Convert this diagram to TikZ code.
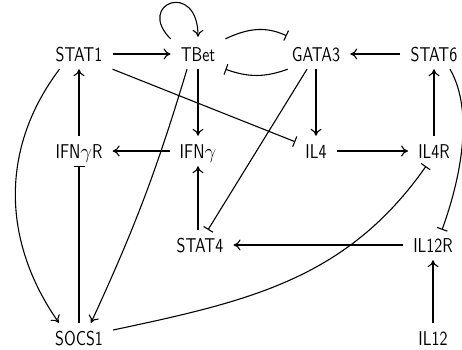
\documentclass[tikz,border=0pt]{standalone}
\usepackage{fontspec}
\newfontfamily\nodefont[FakeStretch=0.8]{lmsans10-regular.otf}
\usetikzlibrary{arrows.meta}
\begin{document}
\begin{tikzpicture}[x=1pt,y=1pt,
  gene/.style={font=\nodefont\fontsize{20}{24}\selectfont, text height=14pt, text depth=0pt, inner xsep=10pt, inner ysep=8pt},
  act/.style={line width=1.1pt, -{To[length=7pt,width=11pt]}},
  inh/.style={line width=1.1pt, -{Bar[width=11pt,line width=1.1pt]}},
]
\useasboundingbox (0,0) rectangle (462,-349);
\node[gene] (STAT1) at (79,-54) {STAT1};
\node[gene] (TBet)  at (198,-54) {TBet};
\node[gene] (GATA3) at (316,-54) {GATA3};
\node[gene] (STAT6) at (434,-54) {STAT6};
\node[gene] (IFNgR) at (79,-151) {IFN$\gamma$R};
\node[gene] (IFNg)  at (198,-151) {IFN$\gamma$};
\node[gene] (IL4)   at (316,-151) {IL4};
\node[gene] (IL4R)  at (434,-151) {IL4R};
\node[gene] (STAT4) at (200,-245) {STAT4};
\node[gene] (IL12R) at (433,-245) {IL12R};
\node[gene] (SOCS1) at (79,-338) {SOCS1};
\node[gene] (IL12)  at (433,-338) {IL12};

\draw[act] (STAT1) -- (TBet);
\draw[act] (TBet.north west) .. controls +(135:50) and +(90:57) .. ([yshift=2pt]TBet.north);
\draw[inh] (TBet.north east) to[out=25,in=155] ([xshift=5pt,yshift=3pt]GATA3.north west);
\draw[inh] ([xshift=6pt]GATA3.south west) to[out=200,in=340] (TBet.south east);
\draw[act] (STAT6) -- (GATA3);
\draw[act] (GATA3) -- (IL4);
\draw[inh] ([xshift=-9pt]GATA3.south) -- ([xshift=8pt]STAT4.north);
\draw[inh] (STAT1.south east) -- ([yshift=-6pt]IL4.north west);
\draw[act] (TBet) -- (IFNg);
\draw[act] ([xshift=-11pt]TBet.south) to[bend left=4] ([xshift=12pt]SOCS1.north);
\draw[act] ([xshift=14pt]STAT1.south west) to[out=233,in=125] ([xshift=14pt]SOCS1.north west);
\draw[act] (IFNgR) -- (STAT1);
\draw[act] (IFNg) -- (IFNgR);
\draw[inh] (SOCS1) -- (IFNgR);
\draw[act] (IFNg.south |- STAT4.north) -- (IFNg.south);
\draw[act] (IL4) -- (IL4R);
\draw[act] (IL4R) -- (STAT6);
\draw[inh] ([yshift=8pt]SOCS1.east) to[out=12,in=235] ([xshift=-8pt]IL4R.south);
\draw[inh] ([xshift=16pt]STAT6.south) to[out=-60,in=70,looseness=0.8] ([xshift=9pt]IL12R.north);
\draw[act] (IL12R) -- (STAT4);
\draw[act] (IL12) -- (IL12R);
\end{tikzpicture}
\end{document}
